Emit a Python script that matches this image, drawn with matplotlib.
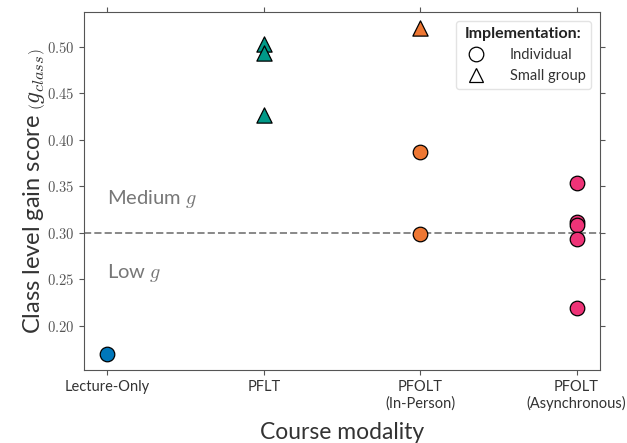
import numpy as np
import matplotlib
matplotlib.use("Agg")
import matplotlib.pyplot as plt
from matplotlib.lines import Line2D

plt.rcParams['font.family'] = ['Lato', 'DejaVu Sans']
plt.rcParams['mathtext.fontset'] = 'cm'

# categories and tick labels
modalities = ["Lecture-Only", "PFLT", "PFOLT\n(In-Person)", "PFOLT\n(Asynchronous)"]
colors = ["#0077BB", "#009988", "#EE7733", "#EE3377"]

# class level gain per course, by modality index and implementation
lecture_ind = [0.170]
pflt_grp = [0.503, 0.493, 0.427]
inperson_ind = [0.387, 0.299]
inperson_grp = [0.520]
async_ind = [0.354, 0.312, 0.308, 0.293, 0.219]

ind_series = [(0, lecture_ind), (2, inperson_ind), (3, async_ind)]
grp_series = [(1, pflt_grp), (2, inperson_grp)]

y_ticks = [0.20, 0.25, 0.30, 0.35, 0.40, 0.45, 0.50]
threshold = 0.30

fig, ax = plt.subplots(figsize=(6.27, 4.43), dpi=100)
fig.subplots_adjust(left=0.134, right=0.957, top=0.973, bottom=0.165)

for idx, vals in ind_series:
    ax.scatter([idx] * len(vals), vals, s=110, marker='o', color=colors[idx],
               edgecolor='black', linewidth=0.9, zorder=3)
for idx, vals in grp_series:
    ax.scatter([idx] * len(vals), vals, s=120, marker='^', color=colors[idx],
               edgecolor='black', linewidth=0.9, zorder=3)

ax.axhline(threshold, color='#888888', linestyle='--', linewidth=1.4, zorder=1)
ax.text(0, 0.336, "Medium $g$", fontsize=14.5, color='#777777', va='center')
ax.text(0, 0.257, "Low $g$", fontsize=14.5, color='#777777', va='center')

ax.set_xticks(range(len(modalities)))
ax.set_xticklabels(modalities, fontsize=10.5, color='#333333')
ax.set_yticks(y_ticks)
ax.set_yticklabels([f"${v:.2f}$" for v in y_ticks], fontsize=10.5, color='#555555')
ax.set_xlim(-0.15, 3.15)

ax.set_xlabel("Course modality", fontsize=16.5, color='#333333', labelpad=8)
ax.set_ylabel(r"Class level gain score $\left(g_{class}\right)$", fontsize=17,
              color='#333333', labelpad=0)

for sp in ax.spines.values():
    sp.set_color('#555555')
ax.tick_params(colors='#555555', top=True, right=True, direction='out', length=3.5)
ax.tick_params(axis='x', labelcolor='#333333')

handles = [
    Line2D([], [], marker='o', linestyle='none', markerfacecolor='white',
           markeredgecolor='black', markeredgewidth=0.9, markersize=10.5, label='Individual'),
    Line2D([], [], marker='^', linestyle='none', markerfacecolor='white',
           markeredgecolor='black', markeredgewidth=0.9, markersize=10.5, label='Small group'),
]
leg = ax.legend(handles=handles, title="Implementation:", loc='upper right',
                fontsize=10.5, title_fontproperties={'weight': 'bold', 'size': 11.5},
                frameon=True, borderpad=0.4, handletextpad=1.3, labelspacing=0.5,
                borderaxespad=0.6)
leg.get_frame().set_edgecolor('#dddddd')
for t in leg.get_texts():
    t.set_color('#333333')
leg.get_title().set_color('#222222')

fig.savefig("out.png", dpi=100)
